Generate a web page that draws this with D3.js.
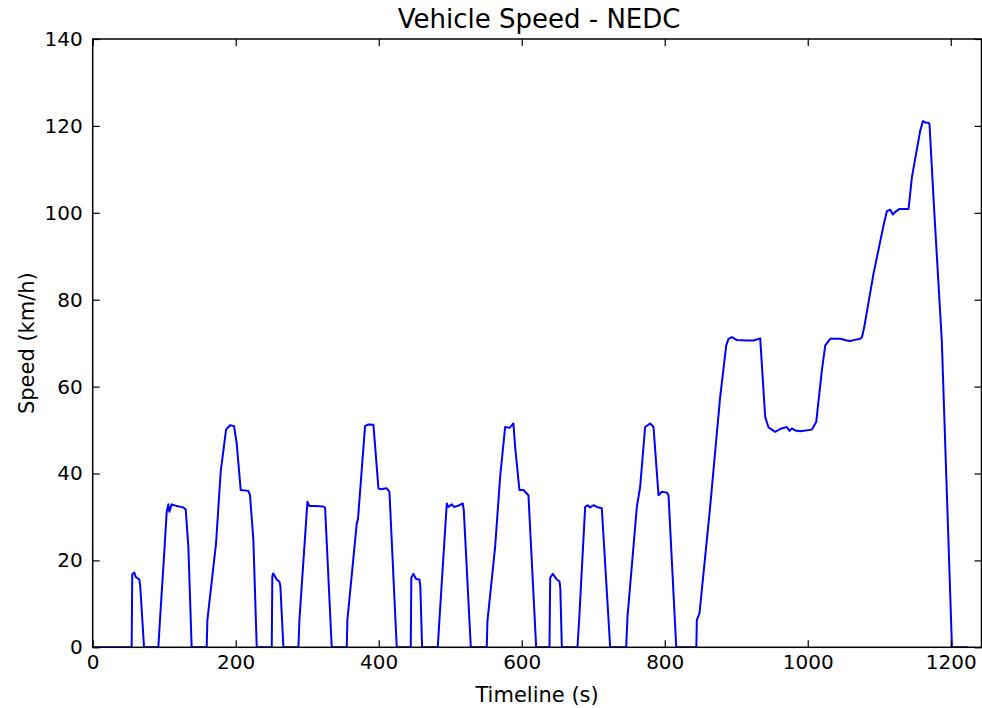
<!DOCTYPE html>
<html>
<head>
<meta charset="utf-8">
<script src="https://cdn.jsdelivr.net/npm/d3@7/dist/d3.min.js"></script>
<style>
  html, body { margin: 0; padding: 0; background: #ffffff; }
  svg { display: block; font-family: "DejaVu Sans", sans-serif; }
</style>
</head>
<body>
<svg id="chart" width="982" height="708"></svg>
<script>
// Measured NEDC run: elapsed time (s) and vehicle speed (km/h)
const time = [
  0, 54.5, 55.3, 58.2, 60.1, 65.2, 66.5, 71.8,
  91.8, 94.1, 99.7, 103.5, 105.8, 107.2, 110.5, 117.5, 126.8, 130.1, 133.8, 138.4,
  159.4, 160.4, 172.5, 179.0, 186.5, 192.1, 197.7, 201.4, 207.0, 217.7, 220.0, 224.7, 229.4,
  250.4, 251.2, 252.5, 257.4, 261.1, 262.5, 266.7,
  287.7, 289.1, 300.3, 303.1, 311.0, 322.6, 325.0, 334.3,
  355.3, 356.2, 369.3, 371.0, 380.9, 385.6, 392.6, 399.6, 401.9, 411.2, 415.0, 425.2,
  444.8, 445.6, 448.5, 452.3, 456.9, 458.2, 460.7,
  482.6, 484.9, 495.2, 497.5, 502.2, 505.4, 511.5, 517.6, 519.0, 528.8,
  551.1, 552.0, 562.8, 569.8, 576.8, 582.9, 588.4, 590.8, 596.8, 602.4, 609.4, 620.2,
  638.8, 639.8, 643.5, 649.1, 652.8, 654.0, 656.1,
  678.0, 680.3, 688.7, 692.0, 695.7, 700.4, 705.0, 712.0, 723.7,
  746.1, 747.9, 761.0, 765.6, 772.6, 779.6, 784.3, 791.3, 796.0, 803.0, 805.3, 816.1,
  844.2, 844.9, 848.6, 863.5, 877.5, 886.0, 889.2, 893.9, 900.9, 914.8, 924.2, 933.5,
  940.5, 945.2, 954.5, 962.0, 970.8, 974.5, 977.8, 982.5, 989.5, 1005.8,
  1011.9, 1019.8, 1024.5, 1031.5, 1045.4, 1054.8, 1059.4, 1064.1, 1073.4, 1075.7,
  1079.0, 1092.0, 1106.0, 1110.7, 1115.4, 1119.0, 1122.4, 1128.4, 1141.0,
  1145.7, 1157.3, 1161.1, 1165.7, 1169.0, 1170.3, 1176.0, 1187.5, 1201.7, 1224.9
];
const speed = [
  0, 0, 16.8, 17.2, 16.2, 15.6, 14.0, 0,
  0, 6.3, 20.8, 31.2, 32.9, 31.2, 32.9, 32.5, 32.2, 31.7, 23.1, 0,
  0, 6.3, 23.9, 40.4, 50.1, 51.1, 50.9, 46.9, 36.2, 36.0, 35.0, 24.7, 0,
  0, 16.4, 17.0, 15.6, 15.1, 14.0, 0,
  0, 6.3, 33.5, 32.5, 32.5, 32.4, 32.1, 0,
  0, 6.3, 28.5, 29.5, 50.9, 51.3, 51.2, 36.6, 36.4, 36.6, 35.8, 0,
  0, 16.0, 16.9, 15.7, 15.6, 14.0, 0,
  0, 6.3, 33.1, 32.3, 32.9, 32.3, 32.6, 33.1, 31.5, 0,
  0, 5.9, 23.1, 39.2, 50.7, 50.5, 51.5, 46.1, 36.2, 36.2, 35.0, 0,
  0, 16.0, 16.9, 15.6, 15.2, 13.5, 0,
  0, 6.3, 32.3, 32.7, 32.2, 32.7, 32.3, 32.0, 0,
  0, 7.0, 32.3, 36.9, 50.7, 51.5, 50.7, 35.0, 35.8, 35.6, 35.0, 0,
  0, 6.3, 7.8, 32.3, 57.6, 69.5, 71.0, 71.4, 70.7, 70.6, 70.6, 71.1,
  53.0, 50.6, 49.6, 50.3, 50.7, 49.8, 50.4, 49.9, 49.7, 50.1,
  51.9, 63.8, 69.5, 71.0, 71.0, 70.6, 70.5, 70.7, 71.0, 71.3,
  73.7, 86.0, 97.1, 100.4, 100.7, 99.6, 100.2, 100.9, 100.9,
  108.2, 118.9, 121.1, 120.7, 120.7, 120.4, 103.0, 70.5, 0, 0
];
const xTicks = [0, 200, 400, 600, 800, 1000, 1200];
const yTicks = [0, 20, 40, 60, 80, 100, 120, 140];

const svg = d3.select("#chart");
const plot = { left: 92.7, right: 981.5, top: 39, bottom: 647.3 };

const x = d3.scaleLinear().domain([0, 1243]).range([plot.left, plot.right]);
const y = d3.scaleLinear().domain([0, 140]).range([plot.bottom, plot.top]);

const tickLen = 7;
const tickFont = "20px";
const fmt = d3.format("d");

// Speed trace
const points = time.map((t, i) => [t, speed[i]]);
const line = d3.line().x(d => x(d[0])).y(d => y(d[1]));

svg.append("defs").append("clipPath").attr("id", "plotclip")
  .append("rect")
  .attr("x", plot.left).attr("y", plot.top)
  .attr("width", plot.right - plot.left).attr("height", plot.bottom - plot.top);

svg.append("path")
  .datum(points)
  .attr("clip-path", "url(#plotclip)")
  .attr("fill", "none")
  .attr("stroke", "#0000ff")
  .attr("stroke-width", 2)
  .attr("stroke-linejoin", "round")
  .attr("d", line);

// Bottom axis: inward ticks and labels below
const xAxisB = d3.axisBottom(x).tickValues(xTicks).tickFormat(fmt)
  .tickSizeInner(-tickLen).tickSizeOuter(0).tickPadding(8);
const gB = svg.append("g").attr("transform", `translate(0,${plot.bottom})`).call(xAxisB);
// Top axis: inward ticks only
const xAxisT = d3.axisTop(x).tickValues(xTicks).tickSizeInner(-tickLen).tickSizeOuter(0).tickFormat("");
const gT = svg.append("g").attr("transform", `translate(0,${plot.top})`).call(xAxisT);
// Left axis: inward ticks and labels
const yAxisL = d3.axisLeft(y).tickValues(yTicks).tickFormat(fmt)
  .tickSizeInner(-tickLen).tickSizeOuter(0).tickPadding(10);
const gL = svg.append("g").attr("transform", `translate(${plot.left},0)`).call(yAxisL);
// Right axis: inward ticks only
const yAxisR = d3.axisRight(y).tickValues(yTicks).tickSizeInner(-tickLen).tickSizeOuter(0).tickFormat("");
const gR = svg.append("g").attr("transform", `translate(${plot.right},0)`).call(yAxisR);

[gB, gT, gL, gR].forEach(g => {
  g.select(".domain").remove();
  g.selectAll(".tick line").attr("stroke", "#000").attr("stroke-width", 1.2);
  g.selectAll(".tick text")
    .attr("fill", "#000")
    .style("font-family", "'DejaVu Sans', sans-serif")
    .style("font-size", tickFont);
});

// Frame
svg.append("rect")
  .attr("x", plot.left).attr("y", plot.top)
  .attr("width", plot.right - plot.left).attr("height", plot.bottom - plot.top)
  .attr("fill", "none").attr("stroke", "#000").attr("stroke-width", 1.5);

// Title and axis labels
svg.append("text")
  .attr("x", (plot.left + plot.right) / 2 + 2).attr("y", 28)
  .attr("text-anchor", "middle")
  .style("font-size", "26px")
  .attr("fill", "#000")
  .text("Vehicle Speed - NEDC");

svg.append("text")
  .attr("x", (plot.left + plot.right) / 2).attr("y", 702)
  .attr("text-anchor", "middle")
  .style("font-size", "21px")
  .attr("fill", "#000")
  .text("Timeline (s)");

svg.append("text")
  .attr("transform", `translate(34,${(plot.top + plot.bottom) / 2}) rotate(-90)`)
  .attr("text-anchor", "middle")
  .style("font-size", "21px")
  .attr("fill", "#000")
  .text("Speed (km/h)");
</script>
</body>
</html>
